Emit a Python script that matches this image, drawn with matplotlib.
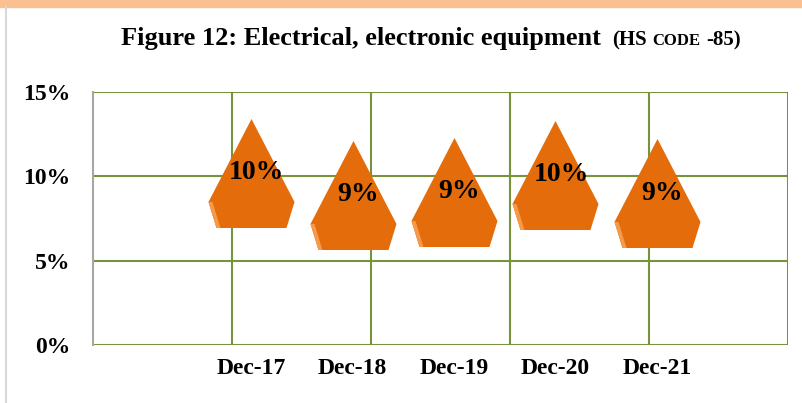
import numpy as np
import matplotlib
matplotlib.use("Agg")
import matplotlib.pyplot as plt
from matplotlib.path import Path
from matplotlib.ticker import PercentFormatter

# data
periods = ["Dec-17", "Dec-18", "Dec-19", "Dec-20", "Dec-21"]
shares = [0.102, 0.089, 0.091, 0.101, 0.090]
labels = ["10%", "9%", "9%", "10%", "9%"]
y_ticks = [0, 0.05, 0.10, 0.15]

orange = "#E46C0A"
bevel = "#F59A4B"
green = "#77933C"
serif = ["Liberation Serif", "DejaVu Serif"]

plt.rcParams["font.family"] = serif
plt.rcParams["font.weight"] = "bold"

fig = plt.figure(figsize=(8.03, 4.03), dpi=100)
W, H = 803, 403

# orange band on top and the grey frame line on the left
fig.patches.append(plt.Rectangle((0, 1 - 7 / H), 1, 7 / H, transform=fig.transFigure,
                                 color="#FAC090", zorder=0))
fig.lines.append(plt.Line2D([6 / W, 6 / W], [0, 1 - 7 / H], transform=fig.transFigure,
                            color="#D9D9D9", lw=1.5))

ax = fig.add_axes([93 / W, (H - 345) / H, 695 / W, 253 / H])

x = np.arange(len(periods))
ax.set_xlim(-1.557, 5.291)
ax.set_ylim(0, 0.15)

# horizontal gridlines + vertical lines dividing the plot into 5 equal cells
for yv in y_ticks:
    ax.axhline(yv, color=green, lw=1.5, zorder=1)
for k in range(1, 6):
    ax.axvline(ax.get_xlim()[0] + k * (ax.get_xlim()[1] - ax.get_xlim()[0]) / 5,
               color=green, lw=1.5, zorder=1)

for s in ["top", "right", "bottom"]:
    ax.spines[s].set_visible(False)
ax.spines["left"].set_color("#A6A6A6")
ax.spines["left"].set_linewidth(1.5)

# pointed pentagon marker with a lighter bevel on the lower-left edge
shape = Path([(0, 54.5), (43, -28.5), (35, -54.5), (-35, -54.5), (-43, -28.5), (0, 54.5)],
             [Path.MOVETO, Path.LINETO, Path.LINETO, Path.LINETO, Path.LINETO, Path.CLOSEPOLY])
edge = Path([(0, 54.5), (-43, -28.5), (-35, -54.5), (-31, -54.5), (-39, -28.5), (-43, -28.5)],
            [Path.MOVETO, Path.MOVETO, Path.LINETO, Path.LINETO, Path.LINETO, Path.CLOSEPOLY])
ms = 109 * 0.72
ax.plot(x, shares, linestyle="none", marker=shape, markersize=ms,
        markerfacecolor=orange, markeredgewidth=0, zorder=3)
ax.plot(x, shares, linestyle="none", marker=edge, markersize=ms,
        markerfacecolor=bevel, markeredgewidth=0, zorder=4)

for xi, yi, lab in zip(x, shares, labels):
    ax.annotate(lab, (xi, yi), xytext=(4, 0), textcoords="offset points",
                ha="center", va="center", fontsize=20, fontweight="bold", zorder=5)

ax.set_xticks(x)
ax.set_xticklabels(periods, fontsize=17, fontweight="bold")
ax.set_yticks(y_ticks)
ax.yaxis.set_major_formatter(PercentFormatter(1.0, decimals=0))
for t in ax.get_yticklabels():
    t.set_fontsize(17)
    t.set_fontweight("bold")
ax.tick_params(axis="x", length=0, pad=9)
ax.tick_params(axis="y", length=0, pad=16)

# title in pieces: main text, "(HS", small-caps "CODE", "-85)"
base = 1 - 45 / H
t1 = fig.text(121 / W, base, "Figure 12: Electrical, electronic equipment",
              fontsize=19, fontweight="bold", va="baseline", ha="left")
fig.canvas.draw()
r = fig.canvas.get_renderer()
x0 = t1.get_window_extent(r).x1 + 11
t2 = fig.text(x0 / W, base, "(HS", fontsize=15, fontweight="bold", va="baseline")
x0 = t2.get_window_extent(r).x1 + 6
t3 = fig.text(x0 / W, base, "CODE", fontsize=12, fontweight="bold", va="baseline")
x0 = t3.get_window_extent(r).x1 + 6
fig.text(x0 / W, base, "-85)", fontsize=15, fontweight="bold", va="baseline")

fig.savefig("out.png", dpi=100)
